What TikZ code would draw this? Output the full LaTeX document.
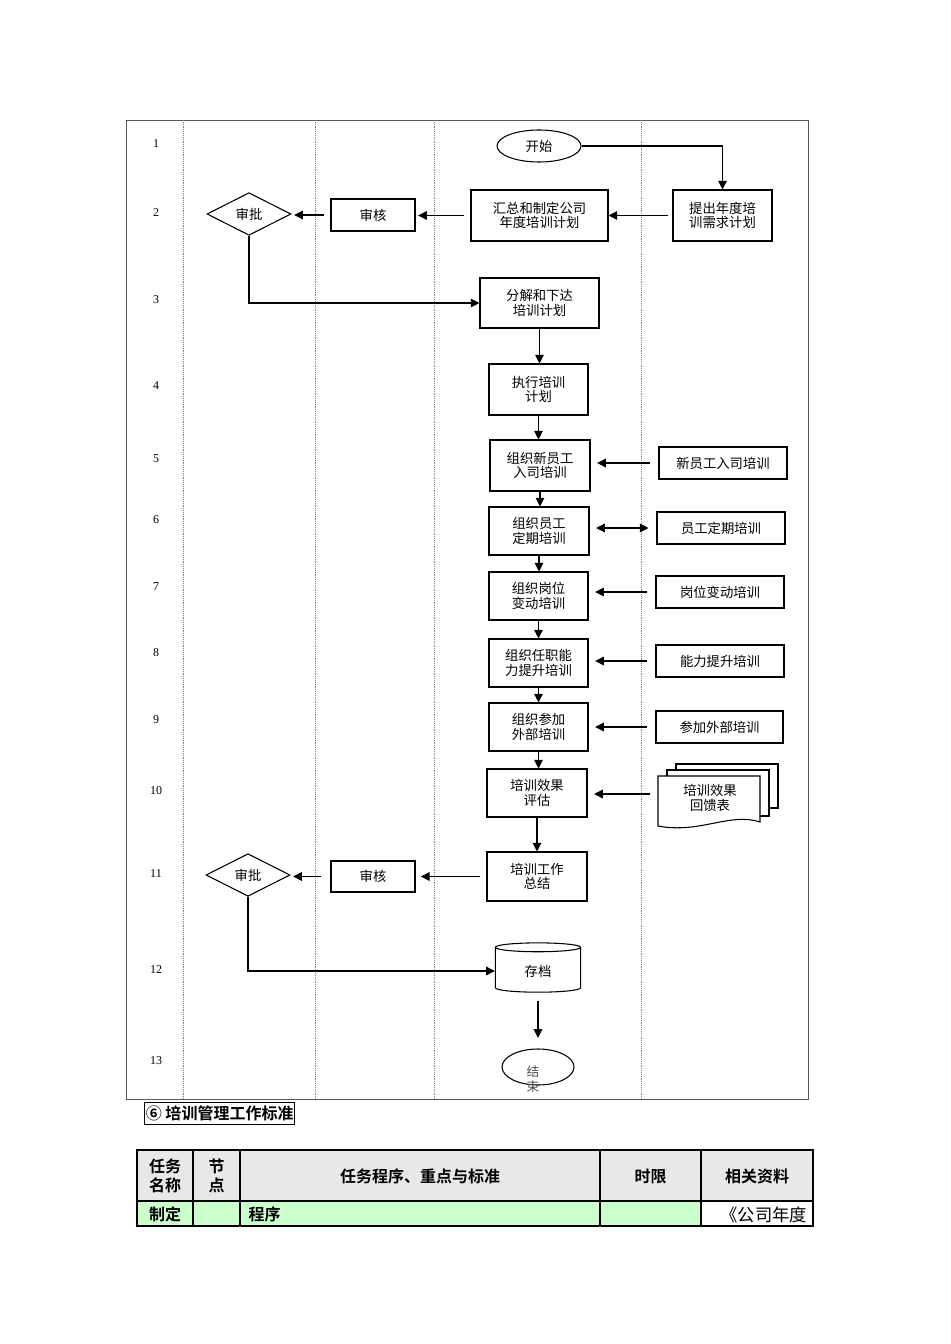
\documentclass[tikz,border=0pt]{standalone}
\usepackage{fontspec}
\setmainfont{Liberation Serif}
\newfontfamily\cjk{Noto Sans CJK SC}
\newfontfamily\cjkb{Noto Sans CJK SC Bold}
\usetikzlibrary{shapes.geometric,arrows.meta}
\begin{document}
\begin{tikzpicture}[x=0.75pt,y=-0.75pt,
  bx/.style 2 args={draw,thick,minimum width=#1*0.75pt,minimum height=#2*0.75pt,inner sep=1pt,align=center,font=\cjk\fontsize{10}{11}\selectfont},
  tip/.tip={Triangle[length=6.5pt,width=6.5pt]},
  ar/.style={-tip,thick},
  num/.style={font=\fontsize{9}{10}\selectfont},
  lane/.style={densely dotted,gray}]
\useasboundingbox (0,0) rectangle (950,1344);
\draw[gray!70!black] (126,120) rectangle (808,1099);
\foreach \x in {183,315,434,641} \draw[lane] (\x,120) -- (\x,1099);
\foreach \n/\y in {1/144,2/213,3/300,4/386,5/459,6/520,7/587,8/653,9/720,10/791,11/874,12/970,13/1061}
  \node[num] (r\n) at (156,\y) {\n};
% nodes
\node[draw,thick,ellipse,minimum width=63pt,minimum height=24pt,font=\cjk\fontsize{10}{11}\selectfont] (start) at (539,146) {开始};
\node[bx={99}{51}] (tc) at (722.5,215.5) {提出年度培\\训需求计划};
\node[bx={137}{51}] (hz) at (539.5,215.5) {汇总和制定公司\\年度培训计划};
\node[bx={84}{32}] (sh1) at (373,215) {审核};
\node[draw,thick,diamond,aspect=2,minimum width=63pt,minimum height=32pt,inner sep=0pt,font=\cjk\fontsize{10}{11}\selectfont] (sp1) at (249,214) {审批};
\node[bx={119}{50}] (fj) at (539.5,303) {分解和下达\\培训计划};
\node[bx={99}{51}] (zx) at (538.5,389.5) {执行培训\\计划};
\node[bx={100}{51}] (n5) at (540,465.5) {组织新员工\\入司培训};
\node[bx={128}{32}] (s5) at (723,463) {新员工入司培训};
\node[bx={100}{48}] (n6) at (539,531) {组织员工\\定期培训};
\node[bx={128}{32}] (s6) at (721,528) {员工定期培训};
\node[bx={99}{48}] (n7) at (538.5,596) {组织岗位\\变动培训};
\node[bx={128}{32}] (s7) at (720,592) {岗位变动培训};
\node[bx={99}{48}] (n8) at (538.5,663) {组织任职能\\力提升培训};
\node[bx={128}{32}] (s8) at (720,661) {能力提升培训};
\node[bx={99}{48}] (n9) at (538.5,727) {组织参加\\外部培训};
\node[bx={127}{32}] (s9) at (719.5,727) {参加外部培训};
\node[bx={100}{48}] (n10) at (537,793) {培训效果\\评估};
\node[bx={100}{49}] (n11) at (537,876.5) {培训工作\\总结};
\node[bx={84}{31}] (sh2) at (373,876.5) {审核};
\node[draw,thick,diamond,aspect=2,minimum width=63pt,minimum height=32pt,inner sep=0pt,font=\cjk\fontsize{10}{11}\selectfont] (sp2) at (248,875) {审批};
\node[draw,thick,cylinder,shape border rotate=90,aspect=0.25,minimum width=64pt,minimum height=37pt,font=\cjk\fontsize{10}{11}\selectfont] (cd) at (538,971) {存档};
\node[draw,thick,ellipse,minimum width=54pt,minimum height=27pt] (end) at (538,1067) {};
\node[font=\cjk\fontsize{9.5}{11}\selectfont,align=center,text=gray!60!black] at (533,1079) {结\\束};
% document stack
\draw[thick,fill=white] (676,764) rectangle (778,808);
\draw[thick,fill=white] (667,770) rectangle (769,816);
\draw[thick,fill=white] (658,776) -- (760,776) -- (760,822) .. controls (730,812) and (700,834) .. (658,826) -- cycle;
\node[font=\cjk\fontsize{10}{11}\selectfont,align=center] (fb) at (710,798) {培训效果\\回馈表};
\coordinate (fbw) at (658,794);
% connectors
\draw[ar] (start.east) -| (tc.north);
\draw[ar,shorten <=3pt] (tc.west) -- (tc.west -| hz.east);
\draw[ar,shorten <=5pt,shorten >=2pt] (hz.west) -- (hz.west -| sh1.east);
\draw[ar,shorten <=5pt,shorten >=2pt] (sh1.west) -- (sh1.west -| sp1.east);
\draw[ar] (sp1.south) |- (fj.west);
\draw[ar] (fj.south) -- (fj.south |- zx.north);
\draw[ar] (zx.south) -- (zx.south |- n5.north);
\draw[ar] (n5.south) -- (n5.south |- n6.north);
\draw[ar] (n6.south) -- (n6.south |- n7.north);
\draw[ar] (n7.south) -- (n7.south |- n8.north);
\draw[ar] (n8.south) -- (n8.south |- n9.north);
\draw[ar] (n9.south) -- (n9.south |- n10.north);
\draw[ar] (n10.south) -- (n10.south |- n11.north);
\draw[ar,shorten <=6pt,shorten >=5pt] (s5.west) -- (s5.west -| n5.east);
\draw[tip-tip,thick,shorten <=5pt,shorten >=6pt] (s6.west -| n6.east) -- (s6.west);
\draw[ar,shorten <=6pt,shorten >=5pt] (s7.west) -- (s7.west -| n7.east);
\draw[ar,shorten <=6pt,shorten >=5pt] (s8.west) -- (s8.west -| n8.east);
\draw[ar,shorten <=6pt,shorten >=5pt] (s9.west) -- (s9.west -| n9.east);
\draw[ar,shorten <=6pt,shorten >=5pt] (fbw) -- (fbw -| n10.east);
\draw[ar,shorten <=5pt,shorten >=4pt] (n11.west) -- (n11.west -| sh2.east);
\draw[ar,shorten <=7pt,shorten >=2pt] (sh2.west) -- (sh2.west -| sp2.east);
\draw[ar] (sp2.south) |- (cd.west);
\draw[ar,shorten <=6pt,shorten >=8pt] (cd.south) -- (end.north);
% section label
\node[draw,thick,font=\cjkb\fontsize{12}{13}\selectfont,anchor=west,inner sep=1pt,minimum height=17pt] (sec) at (144,1113.5) {⑥ 培训管理工作标准};
% table
\fill[gray!18] (137,1150) rectangle (813,1201);
\fill[green!20] (137,1201) rectangle (701,1226);
\draw[thick] (137,1150) rectangle (813,1226);
\draw[thick] (137,1201) -- (813,1201);
\foreach \x in {193,240,600,701} \draw[thick] (\x,1150) -- (\x,1226);
\begin{scope}[font=\cjkb\fontsize{12}{14}\selectfont,align=center]
\node (h1) at (165,1176) {任务\\名称};
\node (h2) at (216.5,1176) {节\\点};
\node (h3) at (420,1176) {任务程序、重点与标准};
\node (h4) at (650.5,1176) {时限};
\node (h5) at (757,1176) {相关资料};
\node (c1) at (165,1214) {制定};
\node[anchor=west] (c3) at (244,1214) {程序};
\end{scope}
\node[font=\cjk\fontsize{13}{14}\selectfont,anchor=east] (c5) at (812,1215) {《公司年度};
\end{tikzpicture}
\end{document}
